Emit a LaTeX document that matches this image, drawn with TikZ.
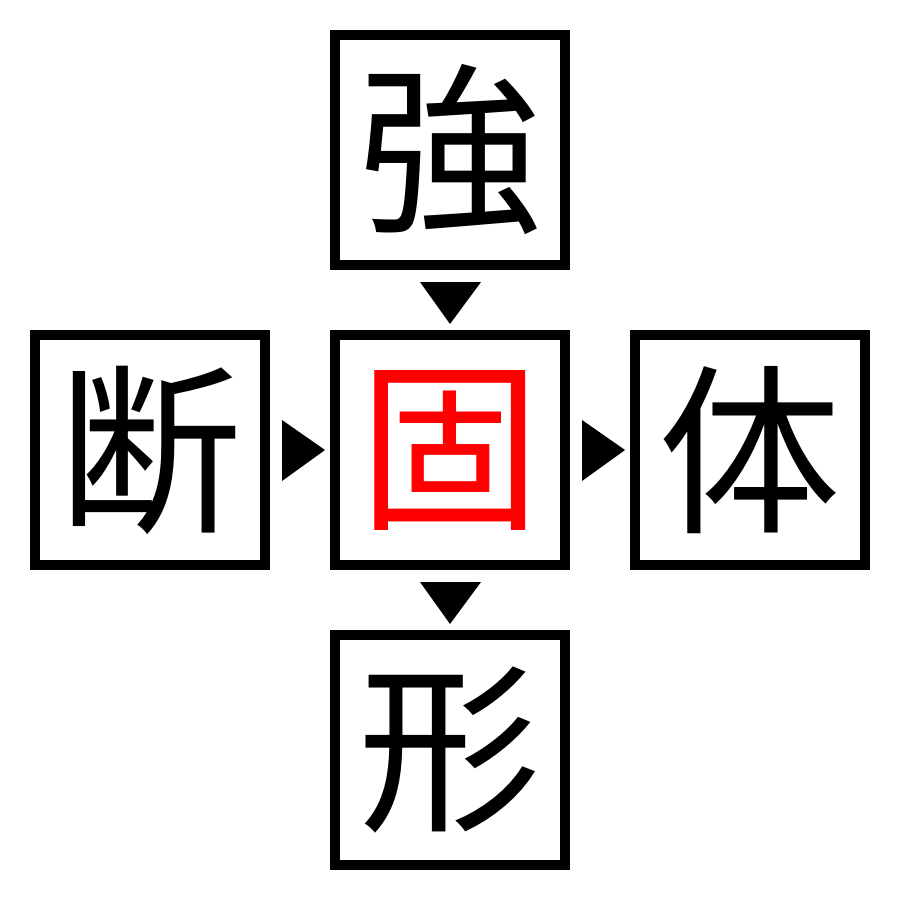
\documentclass[tikz,border=0pt]{standalone}
\usepackage{fontspec}
\newfontfamily\cjk{Noto Sans CJK JP}
\begin{document}
\begin{tikzpicture}[x=0.01cm,y=-0.01cm,
  charbox/.style={draw=black,line width=0.1cm,minimum size=2.3cm,inner sep=0pt,fill=white,font=\cjk\fontsize{52}{52}\selectfont},
  marker/.style={fill=black}]
\fill[white] (0,0) rectangle (900,900);
\node[charbox] (top) at (450,150) {強};
\node[charbox,text=red] (mid) at (450,450) {固};
\node[charbox] (left) at (150,450) {断};
\node[charbox] (right) at (750,450) {体};
\node[charbox] (bot) at (450,750) {形};
% markers
\fill[marker] (420,282) -- (481,282) -- (450,324) -- cycle;
\fill[marker] (420,582) -- (481,582) -- (450,624) -- cycle;
\fill[marker] (282,420) -- (282,481) -- (325,450) -- cycle;
\fill[marker] (582,420) -- (582,481) -- (625,450) -- cycle;
\end{tikzpicture}
\end{document}
